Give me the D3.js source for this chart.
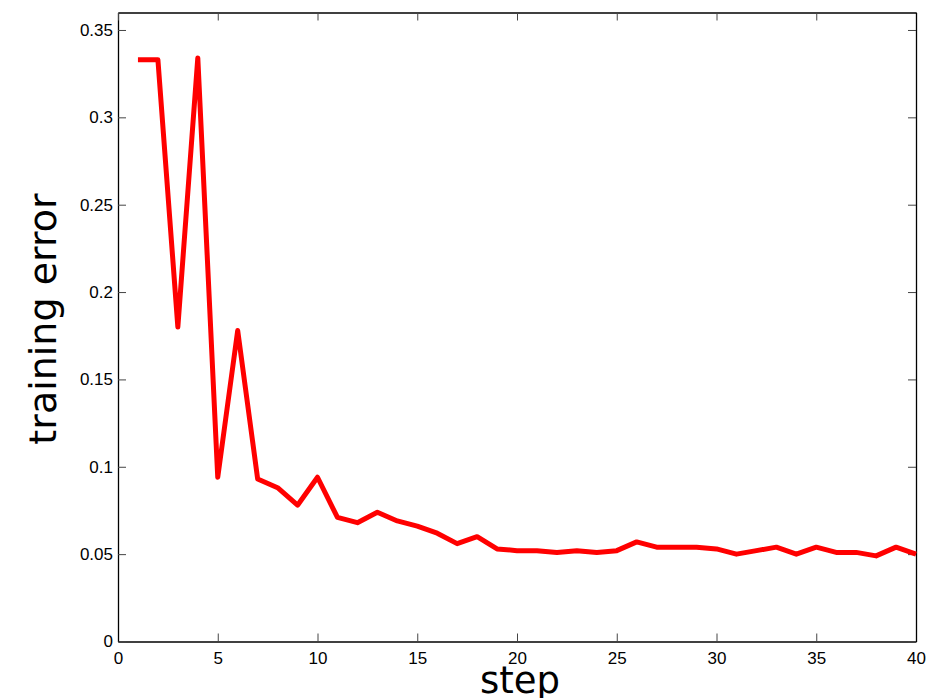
<!DOCTYPE html>
<html>
<head>
<meta charset="utf-8">
<script src="https://cdn.jsdelivr.net/npm/d3@7"></script>
<style>
  body { margin: 0; background: #fff; }
</style>
</head>
<body>
<div id="chart"></div>
<script>
// data
const steps = d3.range(1, 41);
const trainingError = [
  0.333, 0.333, 0.180, 0.334, 0.094, 0.178, 0.093, 0.088, 0.078, 0.094,
  0.071, 0.068, 0.074, 0.069, 0.066, 0.062, 0.056, 0.060, 0.053, 0.052,
  0.052, 0.051, 0.052, 0.051, 0.052, 0.057, 0.054, 0.054, 0.054, 0.053,
  0.050, 0.052, 0.054, 0.050, 0.054, 0.051, 0.051, 0.049, 0.054, 0.050
];
const xTicks = [0, 5, 10, 15, 20, 25, 30, 35, 40];
const yTicks = [0, 0.05, 0.1, 0.15, 0.2, 0.25, 0.3, 0.35];

const data = steps.map((s, i) => ({ step: s, err: trainingError[i] }));

// size
const W = 937, H = 698;
const margin = { top: 12.5, right: 21, bottom: 56.5, left: 118 };
const width = W - margin.left - margin.right;
const height = H - margin.top - margin.bottom;

const x = d3.scaleLinear().domain([0, 40]).range([0, width]);
const y = d3.scaleLinear().domain([0, 0.36]).range([height, 0]);

const svg = d3.select("#chart")
  .append("svg")
  .attr("width", W)
  .attr("height", H)
  .append("g")
  .attr("transform", "translate(" + margin.left + "," + margin.top + ")");

const tickFont = "'Liberation Sans', Arial, sans-serif";

// axes with inward ticks (box around the plot)
svg.append("g")
  .attr("transform", "translate(0," + height + ")")
  .call(d3.axisBottom(x).tickValues(xTicks).tickSizeInner(-8).tickSizeOuter(0).tickPadding(10)
    .tickFormat(d3.format("d")));

svg.append("g")
  .call(d3.axisLeft(y).tickValues(yTicks).tickSizeInner(-8).tickSizeOuter(0).tickPadding(5)
    .tickFormat(d => d === 0 ? "0" : d3.format("")(+d.toFixed(2))));

svg.append("g")
  .call(d3.axisTop(x).tickValues(xTicks).tickSizeInner(-8).tickSizeOuter(0).tickFormat(""));

svg.append("g")
  .attr("transform", "translate(" + width + ",0)")
  .call(d3.axisRight(y).tickValues(yTicks).tickSizeInner(-8).tickSizeOuter(0).tickFormat(""));

svg.selectAll(".domain").attr("stroke", "#000").attr("stroke-width", 1.3);
svg.selectAll(".tick line").attr("stroke", "#444").attr("stroke-width", 1);
svg.selectAll(".tick text")
  .style("font-family", tickFont)
  .style("font-size", "17px")
  .attr("fill", "#000");

// the line
svg.append("path")
  .datum(data)
  .attr("fill", "none")
  .attr("stroke", "#ff0000")
  .attr("stroke-width", 5)
  .attr("stroke-linejoin", "round")
  .attr("d", d3.line()
    .x(d => x(d.step))
    .y(d => y(d.err))
  );

// axis titles
svg.append("text")
  .attr("text-anchor", "middle")
  .attr("x", width / 2 + 3)
  .attr("y", height + 51)
  .style("font-family", "'DejaVu Sans', sans-serif")
  .style("font-size", "37px")
  .text("step");

svg.append("text")
  .attr("transform", "rotate(-90)")
  .attr("text-anchor", "middle")
  .attr("x", -(height / 2) + 8)
  .attr("y", -margin.left + 56)
  .style("font-family", "'DejaVu Sans', sans-serif")
  .style("font-size", "38px")
  .text("training error");
</script>
</body>
</html>
